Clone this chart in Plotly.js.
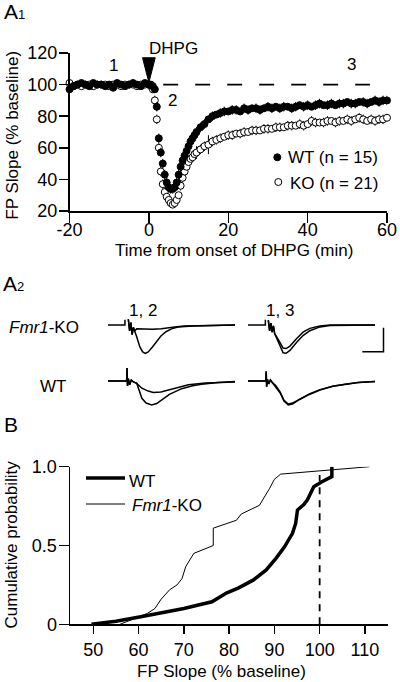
<!DOCTYPE html>
<html><head><meta charset="utf-8">
<script src="https://cdn.plot.ly/plotly-3.0.1.min.js"></script>
<style>html,body{margin:0;padding:0;background:#fff}#chart{width:400px;height:682px}</style>
</head><body><div id="chart"></div>
<script>
// ---------- Panel A1: FP slope time course ----------
const timeA1 = [-20,-19,-18,-17,-16,-15,-14,-13,-12,-11,-10,-9,-8,-7,-6,-5,-4,-3,-2,-1,0,
  0.5,1,1.5,2,2.5,3,3.5,4,4.5,5,5.5,6,6.5,7,7.5,8,8.5,9,9.5,10,10.5,11,11.5,12,
  13,14,15,16,17,18,19,20,21,22,23,24,25,26,27,28,29,30,31,32,33,34,35,36,37,38,39,40,
  41,42,43,44,45,46,47,48,49,50,51,52,53,54,55,56,57,58,59,60];
const wtSlope = [97,99,100,101,100,99,101,100,100,99,100,98,101,100,99,100,101,100,99,101,100,
  100,99,97,86,66,57,50,43,38,35,34,34,35,38,43,48,52,55,58,61,64,66,68,70,
  73,75,78,80,81,82,83,83,84,84,83,85,84,85,85,84,85,86,85,86,85,86,86,85,86,87,86,87,
  86,87,88,87,87,88,87,88,88,89,88,88,89,89,88,89,90,89,90,90];
const koSlope = [101,99,100,99,100,100,99,100,100,100,99,100,100,99,100,100,100,99,100,100,100,
  99,97,90,78,60,45,37,32,29,27,25,24,25,27,30,36,41,45,48,51,53,54,56,57,
  59,61,62,64,65,66,67,68,68,69,69,70,70,71,71,71,72,72,72,73,73,73,74,74,74,75,74,75,
  77,76,76,76,77,77,76,77,77,78,77,78,79,78,77,78,77,78,78,79];
const wtSem = [1,1,1,1,1,1,1,1,1,1,1,1,1,1,1,1,1,1,1,1,1,
  1,1,2,3,3,3,3,3,3,3,3,3,3,3,3,3,3,3,3,3,3,3,3,3,
  3,3,2,3,2,3,3,2,3,3,2,3,3,2,3,3,2,3,3,2,3,3,2,3,3,2,3,3,
  2,3,3,2,3,3,2,3,3,2,3,3,2,3,3,2,3,3,3,3];
const koSem = [1,1,1,1,1,1,1,1,1,1,1,1,1,1,1,1,1,1,1,1,1,
  1,2,3,3,3,3,3,3,3,2,2,2,2,2,2,3,3,3,3,3,3,3,3,4,
  3,3,6,3,3,3,2,3,3,2,3,3,2,3,3,2,3,3,2,3,3,2,3,3,2,3,3,2,
  3,3,2,3,3,2,3,3,2,3,3,2,3,3,2,3,3,3,3];
const dhpgOnset = 0;
const baselineLevel = 100;
const a1XTicks = [-20,0,20,40,60];
const a1XTickText = ['-20','0','20','40','60'];
const a1YTicks = [20,40,60,80,100,120];

// ---------- Panel A2: example traces (ms, mV) ----------
const koPre12T = [0,4.0,4.0];          const koPre12V = [0,0,0.11];
const ko12Base_T = [4.8,5.1,5.4,5.7,6.0,6.3,6.8,7.5,8.2,8.8,9.5,10.5,11.5,12.5,13.7,15,16.5,20,25,30];
const ko12Base_V = [0.12,-0.12,0.05,-0.2,-0.05,-0.12,-0.25,-0.45,-0.56,-0.59,-0.56,-0.46,-0.34,-0.23,-0.14,-0.08,-0.04,-0.02,-0.01,0];
const ko12Dhpg_T = [4.8,5.1,5.4,5.7,6.0,6.3,6.8,8.7,10.5,12.6,14,15.8,18,22,30];
const ko12Dhpg_V = [0.12,-0.12,0.05,-0.2,-0.05,-0.12,-0.08,-0.09,-0.09,-0.08,-0.06,-0.04,-0.02,-0.01,0];

const koPre13T = [0,4.1,4.1];          const koPre13V = [0,0,0.11];
const ko13Base_T = [4.8,5.1,5.4,5.7,6.0,6.3,7.0,7.7,8.3,9.0,9.9,11.5,13,14.6,17,19.4,25,30];
const ko13Base_V = [0.1,-0.12,0.04,-0.15,-0.02,-0.18,-0.32,-0.48,-0.58,-0.59,-0.53,-0.36,-0.22,-0.12,-0.04,-0.01,0,0];
const ko13Late_T = [4.8,5.1,5.4,5.7,6.0,6.3,7.0,7.7,8.3,9.0,9.9,11.5,13,14.6,17,19.4,25,30];
const ko13Late_V = [0.1,-0.12,0.04,-0.15,-0.02,-0.18,-0.28,-0.4,-0.48,-0.49,-0.44,-0.28,-0.15,-0.07,-0.02,0,0,0];

const wt12Base_T = [0,4.4,4.5,4.6,4.8,5.1,5.5,6.0,6.8,8.0,9.0,10.3,11.5,12.7,14.5,17.4,20,22.1,26,30];
const wt12Base_V = [0,0,0.27,-0.1,0.05,-0.08,0.02,-0.02,-0.05,-0.36,-0.46,-0.5,-0.47,-0.4,-0.28,-0.16,-0.1,-0.07,-0.03,-0.01];
const wt12Dhpg_T = [0,4.4,4.5,4.6,4.8,5.1,5.5,6.0,6.8,8.0,9.5,10.7,12.5,14.2,16.5,19.0,23,30];
const wt12Dhpg_V = [0,0,0.27,-0.1,0.05,-0.08,0.02,-0.02,-0.05,-0.15,-0.21,-0.24,-0.23,-0.19,-0.13,-0.08,-0.04,-0.02];

const wt13Base_T = [0,4.2,4.3,4.4,4.6,4.9,5.3,5.8,6.5,7.6,8.5,9.5,10.5,12.3,14.5,17,20,22.9,26,30];
const wt13Base_V = [0,0,0.2,-0.12,0.03,-0.06,0.02,-0.04,-0.1,-0.25,-0.42,-0.5,-0.48,-0.38,-0.28,-0.19,-0.11,-0.07,-0.03,-0.01];
const wt13Late_V = [0,0,0.2,-0.12,0.03,-0.06,0.02,-0.04,-0.09,-0.23,-0.40,-0.48,-0.46,-0.37,-0.27,-0.18,-0.11,-0.07,-0.03,-0.01];
const scaleBarMs = 5, scaleBarMv = 0.5;

// ---------- Panel B: cumulative distributions ----------
const wtCumX = [49.6,55,60.5,65,70,76.2,79.5,82,85.3,88.2,90.4,92.2,94,94.7,95.1,96.5,97.3,98.7,100.5,102.7,102.7];
const wtCumY = [0,0.02,0.048,0.07,0.10,0.143,0.20,0.23,0.28,0.345,0.42,0.49,0.577,0.64,0.725,0.76,0.79,0.873,0.905,0.937,1.0];
const koCumX = [55.9,60.3,62,63.6,65,66.9,68.5,69.6,70.4,72.2,76.5,76.5,79.5,81.6,82.7,86.7,88.9,90,91.4,111];
const koCumY = [0,0.05,0.07,0.10,0.16,0.22,0.25,0.29,0.365,0.45,0.50,0.61,0.64,0.66,0.70,0.755,0.86,0.92,0.953,1.0];
const bXTicks = [50,60,70,80,90,100,110];
const bYTicks = [0,0.5,1];
const bYTickText = ['0','0.5','1.0'];
const controlLevel = 100;

// ---------- helpers for layout positions (pixels -> paper) ----------
const W = 400, H = 682;
const PX = v => v / W;
const PY = v => 1 - v / H;
const FONT = 'Liberation Sans, Arial, Helvetica, sans-serif';

function tr(x, y, xa, ya, w) {
  return {x:x, y:y, xaxis:xa, yaxis:ya, type:'scatter', mode:'lines',
          line:{color:'black', width:w||1.5}, hoverinfo:'skip', cliponaxis:false};
}

const data = [
  // A1
  {x:timeA1, y:koSlope, xaxis:'x', yaxis:'y', type:'scatter', mode:'markers', name:'KO (n = 21)',
   marker:{symbol:'circle', size:7, color:'white', line:{color:'black', width:1}},
   error_y:{type:'data', array:koSem, color:'black', thickness:1, width:0}, cliponaxis:false},
  {x:timeA1, y:wtSlope, xaxis:'x', yaxis:'y', type:'scatter', mode:'markers', name:'WT (n = 15)',
   marker:{symbol:'circle', size:7, color:'black', line:{color:'black', width:1}},
   error_y:{type:'data', array:wtSem, color:'black', thickness:1, width:0}, cliponaxis:false},
  // A2 top (Fmr1-KO)
  tr(koPre12T, koPre12V, 'x3', 'y3'),
  tr(ko12Base_T, ko12Base_V, 'x3', 'y3'),
  tr(ko12Dhpg_T, ko12Dhpg_V, 'x3', 'y3'),
  tr(koPre13T, koPre13V, 'x4', 'y3'),
  tr(ko13Base_T, ko13Base_V, 'x4', 'y3'),
  tr(ko13Late_T, ko13Late_V, 'x4', 'y3'),
  // A2 bottom (WT)
  tr(wt12Base_T, wt12Base_V, 'x3', 'y4'),
  tr(wt12Dhpg_T, wt12Dhpg_V, 'x3', 'y4'),
  tr(wt13Base_T, wt13Base_V, 'x4', 'y4'),
  tr(wt13Base_T, wt13Late_V, 'x4', 'y4'),
  // scale bar (5 ms, 0.5 mV)
  tr([32 - scaleBarMs, 32, 32], [-0.556, -0.556, -0.556 + scaleBarMv], 'x4', 'y3', 1.5),
  // B
  {x:wtCumX, y:wtCumY, xaxis:'x2', yaxis:'y2', type:'scatter', mode:'lines', name:'WT',
   line:{color:'black', width:3.5}, cliponaxis:false},
  {x:koCumX, y:koCumY, xaxis:'x2', yaxis:'y2', type:'scatter', mode:'lines', name:'Fmr1-KO',
   line:{color:'black', width:1}, cliponaxis:false}
];

const axBase = {showline:true, linecolor:'black', linewidth:1.5, ticks:'outside', tickwidth:1.5,
  tickcolor:'black', showgrid:false, zeroline:false, tickfont:{size:18, color:'black', family:FONT},
  fixedrange:true};
const hidden = {visible:false, showgrid:false, zeroline:false, fixedrange:true};

function txt(text, x, y, opts) {
  return Object.assign({text:text, x:PX(x), y:PY(y), xref:'paper', yref:'paper',
    xanchor:'center', yanchor:'middle', showarrow:false, font:{size:17}}, opts || {});
}

const layout = {
  width:W, height:H, margin:{l:0, r:0, t:0, b:0}, paper_bgcolor:'white', plot_bgcolor:'rgba(0,0,0,0)',
  showlegend:false, font:{family:FONT, color:'black', size:17},
  xaxis: Object.assign({}, axBase, {domain:[PX(69.5), PX(387)], range:[-20,60], anchor:'y',
    tickmode:'array', tickvals:a1XTicks, ticktext:a1XTickText, ticklen:10, ticklabelstandoff:-8}),
  yaxis: Object.assign({}, axBase, {domain:[PY(211), PY(53)], range:[20,120], anchor:'x',
    tickmode:'array', tickvals:a1YTicks, ticklen:9, ticklabelstandoff:-2}),
  xaxis2: Object.assign({}, axBase, {domain:[PX(70), PX(388)], range:[44.85,115.1], anchor:'y2',
    tickmode:'array', tickvals:bXTicks, ticklen:8, ticklabelstandoff:1}),
  yaxis2: Object.assign({}, axBase, {domain:[PY(624.3), PY(466.7)], range:[0,1], anchor:'x2',
    tickmode:'array', tickvals:bYTicks, ticktext:bYTickText, ticklen:10, ticklabelstandoff:-2}),
  xaxis3: Object.assign({}, hidden, {domain:[PX(108), PX(235)], range:[0,30], anchor:'y3'}),
  xaxis4: Object.assign({}, hidden, {domain:[PX(248), PX(396.2)], range:[0,35], anchor:'y3'}),
  yaxis3: Object.assign({}, hidden, {domain:[PY(361), PY(301)], range:[-0.75,0.5], anchor:'x3'}),
  yaxis4: Object.assign({}, hidden, {domain:[PY(417), PY(357)], range:[-0.75,0.5], anchor:'x3'}),
  shapes: [
    // DHPG arrowhead
    {type:'path', xref:'x', yref:'y', path:`M ${dhpgOnset-1.6},117 L ${dhpgOnset+1.6},117 L ${dhpgOnset},101.3 Z`,
     fillcolor:'black', line:{color:'black', width:1}},
    // baseline dashed
    {type:'line', xref:'x', yref:'y', x0:3.6, x1:55.7, y0:baselineLevel, y1:baselineLevel,
     line:{color:'black', width:1.8, dash:'15px,17px'}},
    // A1 legend markers
    {type:'circle', xref:'paper', yref:'paper', xsizemode:'pixel', ysizemode:'pixel',
     xanchor:PX(277.3), yanchor:PY(157.3), x0:-3.5, x1:3.5, y0:-3.5, y1:3.5,
     fillcolor:'black', line:{color:'black', width:1}},
    {type:'circle', xref:'paper', yref:'paper', xsizemode:'pixel', ysizemode:'pixel',
     xanchor:PX(278.3), yanchor:PY(182), x0:-3.5, x1:3.5, y0:-3.5, y1:3.5,
     fillcolor:'white', line:{color:'black', width:1}},
    // B dashed control line
    {type:'line', xref:'x2', yref:'y2', x0:controlLevel, x1:controlLevel, y0:0, y1:0.947,
     line:{color:'black', width:1.8, dash:'7px,6px'}},
    // B legend lines
    {type:'line', xref:'paper', yref:'paper', x0:PX(86), x1:PX(125), y0:PY(478), y1:PY(478),
     line:{color:'black', width:3.5}},
    {type:'line', xref:'paper', yref:'paper', x0:PX(86), x1:PX(125), y0:PY(504), y1:PY(504),
     line:{color:'black', width:1}}
  ],
  annotations: [
    // panel letters
    txt('A<span style="font-size:13px">1</span>', 1.5, 12, {xanchor:'left', font:{size:21}}),
    txt('A<span style="font-size:13px">2</span>', 0.5, 283, {xanchor:'left', font:{size:21}}),
    txt('B', 2, 424, {xanchor:'left', font:{size:21}}),
    // A1 texts
    txt('DHPG', 173, 48),
    {text:'1', x:-9, y:112, xref:'x', yref:'y', xanchor:'center', yanchor:'middle', showarrow:false, font:{size:17}},
    {text:'2', x:6, y:90, xref:'x', yref:'y', xanchor:'center', yanchor:'middle', showarrow:false, font:{size:17}},
    {text:'3', x:51, y:112.5, xref:'x', yref:'y', xanchor:'center', yanchor:'middle', showarrow:false, font:{size:17}},
    txt('WT (n = 15)', 285.5, 157, {xanchor:'left'}),
    txt('KO (n = 21)', 287.5, 183, {xanchor:'left'}),
    txt('FP Slope (% baseline)', 11.7, 135, {textangle:-90}),
    txt('Time from onset of DHPG (min)', 234, 250),
    // A2 texts
    txt('1, 2', 143.3, 310),
    txt('1, 3', 280, 310),
    txt('<i>Fmr1</i>-KO', 7, 327, {xanchor:'left'}),
    txt('WT', 37.5, 386, {xanchor:'left'}),
    // B texts
    txt('WT', 127, 481, {xanchor:'left'}),
    txt('<i>Fmr1</i>-KO', 130, 505, {xanchor:'left'}),
    txt('Cumulative probability', 10.5, 545, {textangle:-90}),
    txt('FP Slope (% baseline)', 221, 671.5)
  ]
};

Plotly.newPlot('chart', data, layout, {staticPlot:true, displayModeBar:false});
</script>
</body></html>
